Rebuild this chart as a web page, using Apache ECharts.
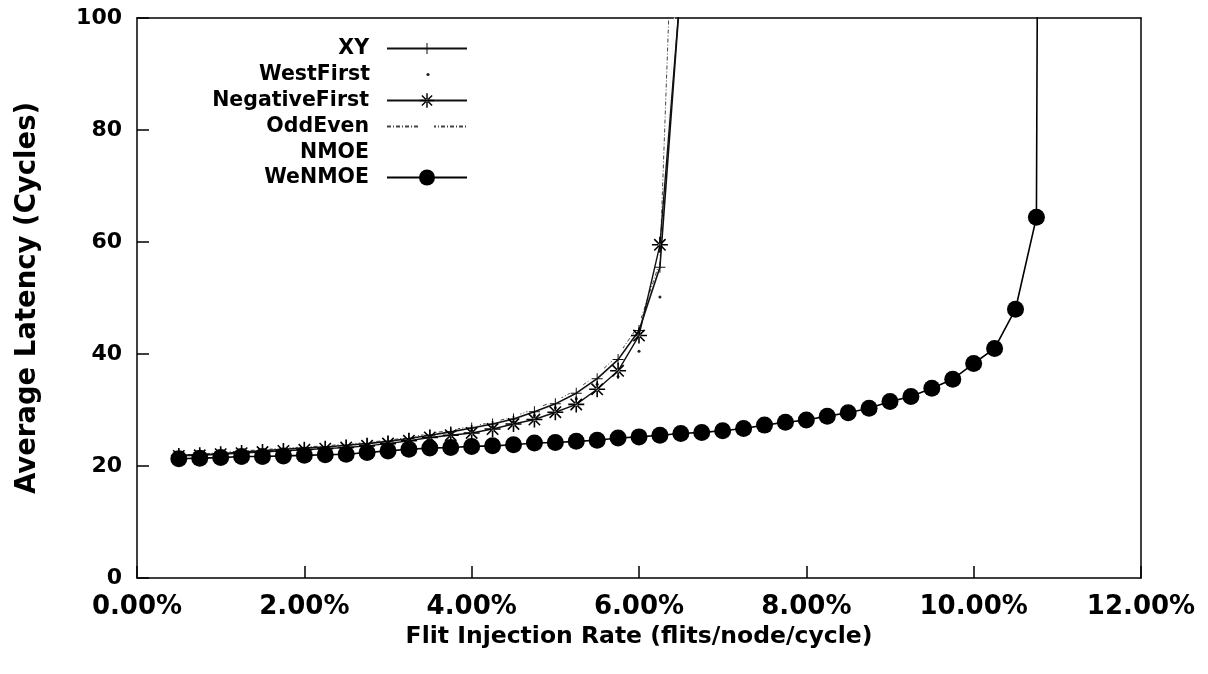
<!DOCTYPE html>
<html>
<head>
<meta charset="utf-8">
<script src="https://cdn.jsdelivr.net/npm/echarts@6/dist/echarts.min.js"></script>
<style>
  html, body { margin: 0; padding: 0; background: #fff; }
  #chart { width: 1208px; height: 674px; }
</style>
</head>
<body>
<div id="chart"></div>
<script>
// Injection rates (% flits/node/cycle)
const injRate = [0.5, 0.75, 1.0, 1.25, 1.5, 1.75, 2.0, 2.25, 2.5, 2.75, 3.0, 3.25, 3.5, 3.75, 4.0, 4.25, 4.5, 4.75, 5.0, 5.25, 5.5, 5.75, 6.0, 6.25, 6.5];
const weRate = [0.5, 0.75, 1.0, 1.25, 1.5, 1.75, 2.0, 2.25, 2.5, 2.75, 3.0, 3.25, 3.5, 3.75, 4.0, 4.25, 4.5, 4.75, 5.0, 5.25, 5.5, 5.75, 6.0, 6.25, 6.5, 6.75, 7.0, 7.25, 7.5, 7.75, 8.0, 8.25, 8.5, 8.75, 9.0, 9.25, 9.5, 9.75, 10.0, 10.25, 10.5, 10.75, 10.8];

// Average latency (cycles)
const xyLat = [21.9, 22.0, 22.2, 22.5, 22.7, 23.0, 23.2, 23.4, 23.7, 24.0, 24.4, 24.9, 25.5, 26.1, 26.8, 27.5, 28.4, 29.7, 31.1, 33.0, 35.6, 39.0, 44.2, 55.5, 106];
const westFirstLat = [21.8, 22.0, 22.2, 22.4, 22.6, 22.8, 23.0, 23.2, 23.5, 23.8, 24.2, 24.7, 25.2, 25.8, 26.4, 27.0, 27.9, 29.0, 30.4, 32.0, 34.6, 36.0, 40.5, 50.2, 150];
const negFirstLat = [21.8, 21.9, 22.1, 22.3, 22.5, 22.7, 22.9, 23.1, 23.3, 23.6, 24.0, 24.5, 25.1, 25.5, 25.9, 26.6, 27.5, 28.3, 29.6, 31.0, 33.7, 37.0, 43.3, 59.5, 106];
const oddEvenLat = [22.0, 22.1, 22.4, 22.7, 22.9, 23.2, 23.4, 23.6, 23.9, 24.2, 24.6, 25.1, 25.8, 26.4, 27.1, 27.8, 28.8, 30.2, 31.6, 33.6, 36.3, 39.8, 45.2, 56.5, 160];
const nmoeLat = [21.9, 22.0, 22.2, 22.5, 22.7, 22.9, 23.1, 23.3, 23.6, 23.9, 24.3, 24.8, 25.4, 26.0, 26.6, 27.3, 28.2, 29.4, 30.8, 32.6, 35.2, 38.6, 43.8, 55.0, 120];
const weNmoeLat = [21.3, 21.4, 21.5, 21.7, 21.7, 21.8, 21.9, 22.0, 22.1, 22.4, 22.7, 23.0, 23.2, 23.3, 23.5, 23.6, 23.8, 24.1, 24.2, 24.4, 24.6, 25.0, 25.2, 25.5, 25.8, 26.0, 26.3, 26.7, 27.3, 27.8, 28.2, 28.9, 29.5, 30.3, 31.5, 32.4, 33.9, 35.5, 38.3, 41.0, 48.0, 64.4, 250];

const xTicks = [0, 2, 4, 6, 8, 10, 12];
const yTicks = [0, 20, 40, 60, 80, 100];

const pair = (xs, ys) => xs.map((x, i) => [x, ys[i]]);

const FONT = 'DejaVu Sans';
const plusPath = 'path://M-0.09,-1H0.09V-0.09H1V0.09H0.09V1H-0.09V0.09H-1V-0.09H-0.09Z';
const starPath = 'path://M-0.1,-1H0.1V1H-0.1Z M-1,-0.1H1V0.1H-1Z M-0.78,-0.64L0.64,0.78L0.78,0.64L-0.64,-0.78Z M0.64,-0.78L-0.78,0.64L-0.64,0.78L0.78,-0.64Z';

const names = ['XY', 'WestFirst', 'NegativeFirst', 'OddEven', 'NMOE', 'WeNMOE'];
const legendTops = [33, 59, 85, 111, 137, 162];
const legendIconH = [14, 4, 18, 15, 14, 20];

const chart = echarts.init(document.getElementById('chart'), null, { renderer: 'canvas' });

const legends = names.map((n, i) => {
  const lg = {
    data: [n],
    right: 735,
    top: legendTops[i],
    orient: 'vertical',
    align: 'right',
    itemWidth: 80,
    itemHeight: legendIconH[i],
    selectedMode: false,
    textStyle: { fontFamily: FONT, fontSize: 20.5, fontWeight: 'bold', color: '#000', padding: [0, 13, 0, 0] }
  };
  if (n === 'NMOE') {
    lg.itemStyle = { opacity: 0 };
    lg.lineStyle = { opacity: 0 };
  }
  return lg;
});

const frameAxis = { show: true, onZero: false, lineStyle: { color: '#000', width: 1.5 } };

const option = {
  animation: false,
  backgroundColor: '#fff',
  legend: legends,
  grid: { left: 137, right: 67, top: 18, bottom: 96, containLabel: false },
  xAxis: [{
    type: 'value', min: 0, max: 12, interval: 2,
    name: 'Flit Injection Rate (flits/node/cycle)',
    nameLocation: 'middle', nameGap: 43,
    nameTextStyle: { fontFamily: FONT, fontSize: 23.5, fontWeight: 'bold', color: '#000' },
    axisLine: frameAxis,
    axisTick: { show: true, inside: true, length: 12, lineStyle: { color: '#000', width: 1.5 } },
    axisLabel: { fontFamily: FONT, fontSize: 26, fontWeight: 'bold', color: '#000', margin: 16,
      formatter: v => xTicks.includes(v) ? v.toFixed(2) + '%' : '' },
    splitLine: { show: false }
  }, {
    type: 'value', min: 0, max: 12, interval: 2, position: 'top',
    axisLine: frameAxis,
    axisTick: { show: false }, axisLabel: { show: false }, splitLine: { show: false }
  }],
  yAxis: [{
    type: 'value', min: 0, max: 100, interval: 20,
    name: 'Average Latency (Cycles)',
    nameLocation: 'middle', nameGap: 95,
    nameTextStyle: { fontFamily: FONT, fontSize: 27.5, fontWeight: 'bold', color: '#000' },
    axisLine: frameAxis,
    axisTick: { show: true, inside: true, length: 12, lineStyle: { color: '#000', width: 1.5 } },
    axisLabel: { fontFamily: FONT, fontSize: 22, fontWeight: 'bold', color: '#000', margin: 15,
      formatter: v => yTicks.includes(v) ? String(v) : '' },
    splitLine: { show: false }
  }, {
    type: 'value', min: 0, max: 100, interval: 20, position: 'right',
    axisLine: frameAxis,
    axisTick: { show: false }, axisLabel: { show: false }, splitLine: { show: false }
  }],
  series: [
    { name: 'NMOE', type: 'line', data: pair(injRate, nmoeLat), clip: true, z: 1,
      showSymbol: false, symbol: 'none',
      lineStyle: { color: '#f4f4f4', width: 1 }, itemStyle: { color: '#f4f4f4' } },
    { name: 'XY', type: 'line', data: pair(injRate, xyLat), clip: true, z: 3,
      symbol: plusPath, symbolSize: 11,
      lineStyle: { color: '#111', width: 1.6 }, itemStyle: { color: '#111' } },
    { name: 'WestFirst', type: 'line', data: pair(injRate, westFirstLat), clip: true, z: 3,
      symbol: 'circle', symbolSize: 3,
      lineStyle: { color: '#000', width: 0, opacity: 0 }, itemStyle: { color: '#222' } },
    { name: 'NegativeFirst', type: 'line', data: pair(injRate, negFirstLat), clip: true, z: 4,
      symbol: starPath, symbolSize: 16,
      lineStyle: { color: '#111', width: 1.4 }, itemStyle: { color: '#000' } },
    { name: 'OddEven', type: 'line', data: pair(injRate, oddEvenLat), clip: true, z: 2,
      symbol: 'emptyRect', symbolSize: 12,
      lineStyle: { color: '#444', width: 1, type: [4, 2, 1, 2] },
      itemStyle: { color: '#fff', borderColor: '#333', borderWidth: 1, borderType: [2, 1] } },
    { name: 'WeNMOE', type: 'line', data: pair(weRate, weNmoeLat), clip: true, z: 5,
      symbol: 'circle', symbolSize: 17,
      lineStyle: { color: '#000', width: 1.6 }, itemStyle: { color: '#000' } }
  ]
};
chart.setOption(option);
</script>
</body>
</html>
